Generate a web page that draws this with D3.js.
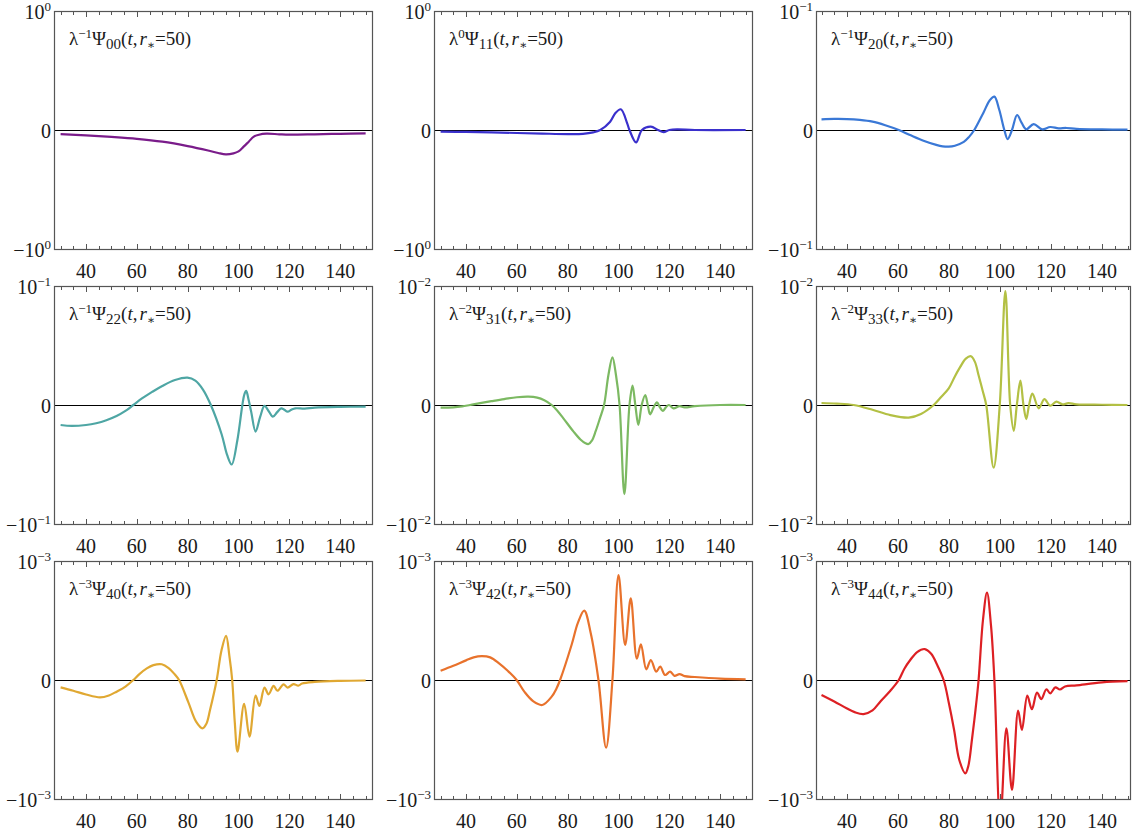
<!DOCTYPE html>
<html>
<head>
<meta charset="utf-8">
<script src="https://cdn.jsdelivr.net/npm/d3@7"></script>
<style>
  body { margin: 0; background: #fff; }
  svg { display: block; }
</style>
</head>
<body>
<svg id="fig" width="1137" height="832" font-family="'Liberation Serif', 'Times New Roman', 'DejaVu Serif', serif"></svg>
<script>
// Multipole wave signals Ψ_lm(t, r*=50). Each series is stored in units of its
// panel's full-scale value 10^yExp, as [t, value] pairs.
const modeIndex   = ["00", "11", "20", "22", "31", "33", "40", "42", "44"];
const lambdaPower = [-1, 0, -1, -1, -2, -2, -3, -3, -3];
const yExp        = [0, 0, -1, -1, -2, -2, -3, -3, -3];
const lineColors  = ["#7a1c8a", "#3a30cc", "#3a78d6", "#4ea6a4", "#7cb962",
                     "#b3c044", "#e0a832", "#e8722c", "#dd2024"];
const majorTicks  = [40, 60, 80, 100, 120, 140];
const minorTicks  = d3.range(30, 151, 5);

const psi00 = [[30,-0.035],[40,-0.045],[50,-0.058],[60,-0.074],[70,-0.098],[80,-0.135],[88,-0.172],[92,-0.193],[95,-0.204],[98,-0.196],[100,-0.18],[102,-0.14],[104,-0.098],[106,-0.056],[108,-0.04],[111,-0.031],[116,-0.036],[120,-0.039],[130,-0.036],[140,-0.032],[150,-0.028]];

const psi11 = [[30,-0.014],[40,-0.016],[50,-0.02],[60,-0.025],[70,-0.03],[80,-0.034],[86,-0.032],[90,-0.02],[92.8,0],[96.7,0.07],[98.7,0.14],[100.9,0.174],[103.4,0.056],[104.3,0],[106.9,-0.104],[109.2,0],[112.7,0.028],[115.5,0],[117.7,-0.018],[120,0],[123,0.006],[130,0],[150,0]];

const psi20 = [[30,0.09],[35,0.093],[40,0.092],[45,0.085],[50,0.07],[55,0.04],[60.3,0],[65,-0.045],[70,-0.09],[75,-0.125],[77.5,-0.137],[79.9,-0.14],[82.3,-0.132],[85.8,-0.1],[87.8,-0.06],[89.9,0],[93.6,0.15],[96,0.25],[97.8,0.28],[99.7,0.17],[101.7,0],[103,-0.076],[104.7,0],[106.7,0.126],[108.5,0.06],[110.3,0.006],[113.2,0.05],[116.5,0.006],[119.7,0.025],[123,0.014],[126,0.017],[130,0.01],[140,0.005],[150,0.003]];

const psi22 = [[30,-0.168],[34.4,-0.176],[40,-0.168],[44,-0.153],[48,-0.128],[52,-0.093],[55.5,-0.05],[58.6,0],[62,0.055],[66,0.11],[70,0.16],[75,0.21],[79.9,0.23],[83,0.205],[86,0.13],[89.1,0],[93.4,-0.25],[95.5,-0.42],[97.3,-0.5],[99.5,-0.3],[101.5,0],[102.3,0.09],[103,0.118],[104,0.04],[105,-0.06],[106.7,-0.224],[108.5,-0.1],[110.2,-0.008],[111.8,-0.05],[113.5,-0.098],[115.2,-0.06],[116.8,-0.028],[118,-0.04],[119.3,-0.056],[120.8,-0.04],[122.3,-0.028],[126,-0.03],[130,-0.022],[140,-0.016],[150,-0.014]];

const psi31 = [[30,-0.022],[35,-0.02],[38.5,-0.012],[41.6,0],[45,0.013],[50,0.032],[55,0.05],[60,0.065],[64.5,0.07],[68,0.062],[70.8,0.04],[73.7,0],[76,-0.05],[78.3,-0.112],[82.3,-0.224],[85,-0.29],[87,-0.322],[88.2,-0.328],[89.5,-0.3],[91,-0.22],[92.7,-0.11],[94.3,0],[96,0.25],[97.6,0.4],[99,0.25],[100.4,0],[102.3,-0.75],[104.3,0],[105.5,0.162],[106.6,0],[107.8,-0.168],[109.1,0],[110.5,0.084],[111.5,0],[112.4,-0.078],[113.8,-0.02],[115.1,0.022],[116.3,-0.02],[117.4,-0.05],[118.6,-0.02],[119.8,0],[121.6,-0.028],[124,-0.01],[126,-0.02],[130,-0.01],[140,0],[150,0]];

const psi33 = [[30,0.017],[36,0.012],[42.6,0],[50,-0.04],[57,-0.085],[64.2,-0.106],[69,-0.075],[74,0],[77,0.07],[79.9,0.14],[82.3,0.24],[84.4,0.32],[86.6,0.39],[88.6,0.41],[90.2,0.36],[91.6,0.25],[93.2,0.12],[94.6,0],[97.5,-0.527],[99.9,0],[102.1,0.958],[104,0],[105.4,-0.218],[106.6,0],[108,0.204],[109.2,0],[110.3,-0.118],[111.4,0],[112.7,0.095],[115.2,-0.028],[117.4,0.05],[119.7,-0.006],[122.1,0.028],[124.5,0.005],[126.8,0.015],[130,0.006],[140,0.002],[150,0]];

const psi40 = [[30,-0.062],[35,-0.09],[40,-0.122],[45.5,-0.146],[49,-0.13],[52,-0.098],[55.5,-0.055],[58.6,0],[61,0.05],[63.9,0.098],[66.5,0.125],[69.8,0.132],[72.5,0.1],[74.8,0.05],[76.6,0],[80.3,-0.19],[83.3,-0.35],[85.8,-0.406],[87.3,-0.37],[88.8,-0.25],[91.4,0],[93.3,0.25],[95.1,0.37],[96.4,0.2],[97.5,0],[98.5,-0.35],[99.6,-0.602],[102.2,-0.2],[104.3,-0.476],[106.7,-0.132],[108.2,-0.218],[110.2,-0.064],[111.8,-0.12],[113.8,-0.05],[115.3,-0.09],[117.7,-0.036],[119.3,-0.064],[121.6,-0.034],[123.5,-0.048],[125,-0.03],[130,-0.016],[140,-0.007],[150,-0.004]];

const psi42 = [[30,0.078],[35,0.12],[40,0.165],[43,0.19],[46.2,0.2],[49.5,0.19],[53,0.14],[56.5,0.075],[59.9,0],[63,-0.1],[66.5,-0.18],[70,-0.21],[73.7,-0.14],[75.5,-0.075],[77,0],[81.6,0.3],[84,0.48],[86.5,0.583],[89,0.4],[92.1,0],[95.1,-0.569],[97.6,0],[100,0.882],[102.6,0.294],[104.8,0.686],[107.2,0.18],[108.8,0.3],[110.9,0.09],[112.7,0.168],[114.8,0.07],[116.4,0.112],[118.3,0.042],[120.3,0.07],[122,0.035],[124,0.05],[126,0.032],[130,0.025],[140,0.012],[150,0.006]];

const psi44 = [[30,-0.126],[35,-0.18],[40,-0.24],[43,-0.27],[46.5,-0.286],[50,-0.255],[53.1,-0.18],[57,-0.09],[60.3,0],[62.5,0.095],[64.8,0.168],[67.5,0.235],[70.5,0.26],[73,0.22],[75.3,0.13],[77.9,0],[80,-0.2],[82,-0.42],[84,-0.67],[86.4,-0.784],[87.6,-0.72],[89,-0.5],[90.4,-0.25],[91.6,0],[93.3,0.5],[94.9,0.734],[96.5,0.45],[97.8,0],[100.1,-1.2],[102.5,-0.406],[104.7,-0.924],[107.1,-0.258],[108.6,-0.42],[110.7,-0.132],[112.5,-0.246],[114.5,-0.106],[116.2,-0.16],[118.2,-0.078],[119.7,-0.112],[121.7,-0.062],[123.5,-0.08],[125.5,-0.055],[130,-0.045],[140,-0.02],[150,-0.01]];

const seriesList = [psi00, psi11, psi20, psi22, psi31, psi33, psi40, psi42, psi44];

// ---- layout ----
const svg = d3.select("#fig");
svg.append("rect").attr("width", 1137).attr("height", 832).attr("fill", "#fff");

const colFrames = [
  { left: 54,  right: 372,  tmin: 27.4,  tmax: 152.5 },
  { left: 434, right: 752,  tmin: 27.4,  tmax: 152.5 },
  { left: 816, right: 1130, tmin: 27.84, tmax: 150.98 }
];
const rowFrames = [
  { top: 11,  bottom: 249 },
  { top: 286, bottom: 524 },
  { top: 561, bottom: 799 }
];

const MINUS = "\u2212";
const TEXT = "#1a1a1a";
function fmtExp(e) { return e < 0 ? MINUS + Math.abs(e) : String(e); }

modeIndex.forEach((idx, i) => {
  const c = colFrames[i % 3], r = rowFrames[Math.floor(i / 3)];
  const x = d3.scaleLinear().domain([c.tmin, c.tmax]).range([c.left, c.right]);
  const y = d3.scaleLinear().domain([-1, 1]).range([r.bottom, r.top]);
  const g = svg.append("g");

  const clipId = "clip" + i;
  svg.append("clipPath").attr("id", clipId).append("rect")
    .attr("x", c.left).attr("y", r.top)
    .attr("width", c.right - c.left).attr("height", r.bottom - r.top);

  // zero reference line
  g.append("line")
    .attr("x1", c.left).attr("x2", c.right)
    .attr("y1", y(0) + 0.5).attr("y2", y(0) + 0.5)
    .attr("stroke", "#000").attr("stroke-width", 1)
    .attr("shape-rendering", "crispEdges");

  // signal
  const line = d3.line().x(d => x(d[0])).y(d => y(d[1])).curve(d3.curveCatmullRom.alpha(0.5));
  g.append("path")
    .datum(seriesList[i])
    .attr("clip-path", `url(#${clipId})`)
    .attr("d", line)
    .attr("fill", "none")
    .attr("stroke", lineColors[i])
    .attr("stroke-width", 2.2)
    .attr("stroke-linejoin", "round");

  // frame
  g.append("rect")
    .attr("x", c.left + 0.5).attr("y", r.top + 0.5)
    .attr("width", c.right - c.left).attr("height", r.bottom - r.top)
    .attr("fill", "none").attr("stroke", "#555").attr("stroke-width", 1.2);

  // inward ticks, bottom and top
  const tickG = g.append("g").attr("stroke", "#555").attr("stroke-width", 1)
    .attr("shape-rendering", "crispEdges");
  minorTicks.forEach(t => {
    const isMajor = majorTicks.includes(t);
    const len = isMajor ? 5 : 3;
    const xp = Math.round(x(t)) + 0.5;
    tickG.append("line").attr("x1", xp).attr("x2", xp).attr("y1", r.bottom).attr("y2", r.bottom - len);
    tickG.append("line").attr("x1", xp).attr("x2", xp).attr("y1", r.top + 1).attr("y2", r.top + 1 + len);
  });

  // x tick labels
  g.append("g").selectAll("text").data(majorTicks).join("text")
    .attr("x", d => x(d)).attr("y", r.bottom + 29)
    .attr("text-anchor", "middle").attr("font-size", 20).attr("fill", TEXT)
    .text(d => d);

  // y tick labels: ±10^e and 0
  const e = yExp[i];
  const yl = [
    { v: 1, sign: "" },
    { v: 0, sign: null },
    { v: -1, sign: MINUS }
  ];
  yl.forEach(d => {
    const t = g.append("text")
      .attr("x", c.left - 3).attr("y", y(d.v) + 7.5)
      .attr("text-anchor", "end").attr("font-size", 20).attr("fill", TEXT);
    if (d.sign === null) { t.text("0"); return; }
    t.append("tspan").text(d.sign + "10");
    t.append("tspan").attr("font-size", 13).attr("dy", -8).text(fmtExp(e));
  });

  // panel title: λ^p Ψ_lm(t, r*=50)
  const title = g.append("text")
    .attr("x", c.left + 15).attr("y", r.top + 34)
    .attr("font-size", 19).attr("fill", TEXT);
  title.append("tspan").text("\u03bb");
  title.append("tspan").attr("font-size", 13).attr("dy", -7).text(fmtExp(lambdaPower[i]));
  title.append("tspan").attr("dy", 7).text("\u03a8");
  title.append("tspan").attr("font-size", 15).attr("dy", 4).text(idx);
  title.append("tspan").attr("dy", -4).text("(");
  title.append("tspan").attr("font-style", "italic").text("t");
  title.append("tspan").text(",");
  title.append("tspan").attr("font-style", "italic").attr("dx", 2).text("r");
  title.append("tspan").attr("font-size", 12).attr("dy", 4).text("\u2217");
  title.append("tspan").attr("dy", -4).text("=50)");
});
</script>
</body>
</html>
